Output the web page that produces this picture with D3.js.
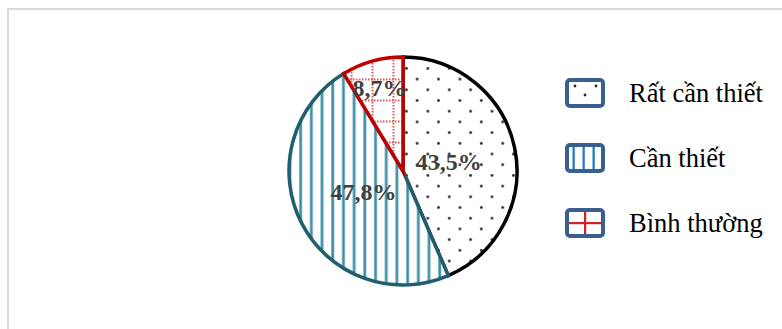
<!DOCTYPE html>
<html>
<head>
<meta charset="utf-8">
<script src="https://cdn.jsdelivr.net/npm/d3@7"></script>
<style>
  html, body { margin: 0; padding: 0; background: #fff; }
  svg { display: block; }
</style>
</head>
<body>
<svg id="chart" width="782" height="329"></svg>
<script>
// Survey shares, clockwise from 12 o'clock
const categories = ["Rất cần thiết", "Cần thiết", "Bình thường"];
const shares = [43.5, 47.8, 8.7];
const shareLabels = ["43,5%", "47,8%", "8,7%"];

const outlineColors = ["#000000", "#215e6e", "#c00000"];
const fills = ["url(#dots)", "url(#stripes)", "url(#grid)"];
const legendFills = ["url(#dotsKey)", "url(#stripesKey)", "url(#crossKey)"];

const svg = d3.select("#chart");
const defs = svg.append("defs");

// Dotted fill
const dots = defs.append("pattern").attr("id", "dots")
  .attr("patternUnits", "userSpaceOnUse").attr("width", 21.4).attr("height", 21.4)
  .attr("x", 2).attr("y", 3);
dots.append("rect").attr("width", 21.4).attr("height", 21.4).attr("fill", "#fff");
dots.append("circle").attr("cx", 1.4).attr("cy", 1.4).attr("r", 1.4).attr("fill", "#2a2a2a");
dots.append("circle").attr("cx", 12.1).attr("cy", 12.1).attr("r", 1.4).attr("fill", "#2a2a2a");

// Vertical stripes
const stripes = defs.append("pattern").attr("id", "stripes")
  .attr("patternUnits", "userSpaceOnUse").attr("width", 10.7).attr("height", 10)
  .attr("x", 1);
stripes.append("rect").attr("width", 10.7).attr("height", 10).attr("fill", "#fff");
stripes.append("rect").attr("x", 2).attr("width", 3.2).attr("height", 10).attr("fill", "#7fb8c8");
stripes.append("rect").attr("x", 2.8).attr("width", 1.8).attr("height", 10).attr("fill", "#3f8ca2");

// Dotted red grid
const grid = defs.append("pattern").attr("id", "grid")
  .attr("patternUnits", "userSpaceOnUse").attr("width", 21).attr("height", 21)
  .attr("x", 1).attr("y", 3);
grid.append("rect").attr("width", 21).attr("height", 21).attr("fill", "#fff");
grid.append("line").attr("x1", 10.5).attr("x2", 10.5).attr("y1", 0).attr("y2", 21)
  .attr("stroke", "#e05555").attr("stroke-width", 2).attr("stroke-dasharray", "1.5,1.5");
grid.append("line").attr("y1", 10.5).attr("y2", 10.5).attr("x1", 0).attr("x2", 21)
  .attr("stroke", "#e05555").attr("stroke-width", 2).attr("stroke-dasharray", "1.5,1.5");

// Legend swatch fills (coordinates relative to each legend row)
const dk = defs.append("pattern").attr("id", "dotsKey")
  .attr("patternUnits", "userSpaceOnUse").attr("width", 40).attr("height", 30)
  .attr("x", 0).attr("y", -15);
dk.append("rect").attr("width", 40).attr("height", 30).attr("fill", "#fff");
[[10, 8], [31, 8], [20, 17]].forEach(([x, y]) =>
  dk.append("circle").attr("cx", x).attr("cy", y).attr("r", 1.4).attr("fill", "#2a2a2a"));

const sk = defs.append("pattern").attr("id", "stripesKey")
  .attr("patternUnits", "userSpaceOnUse").attr("width", 10).attr("height", 30)
  .attr("x", 2).attr("y", -15);
sk.append("rect").attr("width", 10).attr("height", 30).attr("fill", "#fff");
sk.append("rect").attr("x", 5).attr("width", 3).attr("height", 30).attr("fill", "#8dbde6");
sk.append("rect").attr("x", 6).attr("width", 1.6).attr("height", 30).attr("fill", "#2e75c6");

const ck = defs.append("pattern").attr("id", "crossKey")
  .attr("patternUnits", "userSpaceOnUse").attr("width", 40).attr("height", 30)
  .attr("x", 0).attr("y", -15);
ck.append("rect").attr("width", 40).attr("height", 30).attr("fill", "#fff");
ck.append("rect").attr("x", 19).attr("y", 0).attr("width", 2.2).attr("height", 30).attr("fill", "#d42020");
ck.append("rect").attr("x", 0).attr("y", 14).attr("width", 40).attr("height", 2.2).attr("fill", "#d42020");

// Chart frame
svg.append("rect")
  .attr("x", 8).attr("y", 9).attr("width", 800).attr("height", 400)
  .attr("fill", "none").attr("stroke", "#d9d9d9").attr("stroke-width", 2);

// Pie
const cx = 403, cy = 171, radius = 114;
const pie = d3.pie().sort(null).value(d => d);
const arc = d3.arc().innerRadius(0).outerRadius(radius);
const arcs = pie(shares);

const g = svg.append("g").attr("transform", `translate(${cx},${cy})`);
g.selectAll("path.slice").data(arcs).join("path")
  .attr("class", "slice")
  .attr("d", arc)
  .attr("fill", (d, i) => fills[i])
  .attr("stroke", (d, i) => outlineColors[i])
  .attr("stroke-width", 3.5)
  .attr("stroke-linejoin", "miter");

// Value labels, placed along each slice's bisector
const labelRadius = [0.41, 0.39, 0.76];
const labelArc = i => d3.arc().innerRadius(radius * labelRadius[i]).outerRadius(radius * labelRadius[i]);
g.selectAll("text.val").data(arcs).join("text")
  .attr("class", "val")
  .attr("transform", (d, i) => {
    const [x, y] = labelArc(i).centroid(d);
    return `translate(${x},${y})`;
  })
  .attr("text-anchor", "middle")
  .attr("dy", "0.35em")
  .attr("font-family", "'Liberation Serif', 'Times New Roman', serif")
  .attr("font-weight", "bold")
  .attr("font-size", 24)
  .attr("fill", "#404040")
  .text((d, i) => shareLabels[i]);

// Legend
const legend = svg.append("g");
const rowY = d3.scalePoint().domain(categories).range([93, 223]);
const rows = legend.selectAll("g").data(categories).join("g")
  .attr("transform", d => `translate(565,${rowY(d)})`);
rows.append("rect")
  .attr("x", 2).attr("y", -13).attr("width", 36).attr("height", 26).attr("rx", 3)
  .attr("fill", (d, i) => legendFills[i])
  .attr("stroke", "#3a5f8f").attr("stroke-width", 4);
rows.append("text")
  .attr("x", 64).attr("y", 9)
  .attr("font-family", "'Liberation Serif', 'Times New Roman', serif")
  .attr("font-size", 26.5)
  .attr("fill", "#000")
  .text(d => d);
</script>
</body>
</html>
